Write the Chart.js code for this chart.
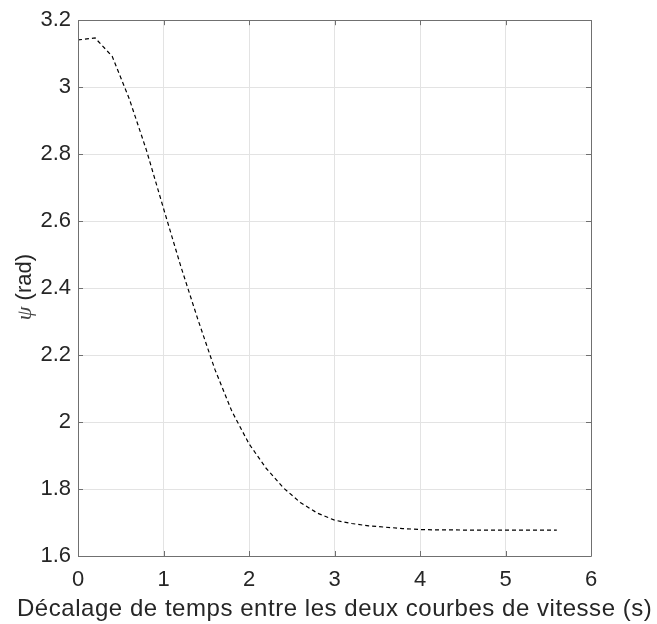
<!DOCTYPE html>
<html>
<head>
<meta charset="utf-8">
<script src="https://cdn.jsdelivr.net/npm/chart.js@4.4.0/dist/chart.umd.min.js"></script>
<style>
  html, body { margin: 0; padding: 0; background: #ffffff; }
  #wrap { width: 657px; height: 624px; }
</style>
</head>
<body>
<div id="wrap"><canvas id="c" width="657" height="624"></canvas></div>
<script>
// Data
const timeShift = [0, 0.2, 0.4, 0.6, 0.8, 1.0, 1.2, 1.4, 1.6, 1.8, 2.0, 2.2, 2.4, 2.6, 2.8, 3.0,
                   3.2, 3.4, 3.6, 3.8, 4.0, 4.2, 4.4, 4.6, 4.8, 5.0, 5.2, 5.4, 5.6];
const psiValues = [3.141, 3.147, 3.092, 2.965, 2.812, 2.638, 2.467, 2.308, 2.158, 2.032, 1.935,
                   1.862, 1.804, 1.760, 1.728, 1.707, 1.697, 1.690, 1.686, 1.682, 1.679,
                   1.678, 1.678, 1.677, 1.677, 1.677, 1.677, 1.677, 1.677];
const xTicks = [0, 1, 2, 3, 4, 5, 6];
const yTicks = [1.6, 1.8, 2.0, 2.2, 2.4, 2.6, 2.8, 3.0, 3.2];
const xTitle = 'Décalage de temps entre les deux courbes de vitesse (s)';
const ySymbol = 'ψ';
const yUnit = ' (rad)';

const FONT = '"Liberation Sans", Arial, Helvetica, sans-serif';
const TEXT = '#262626';

const boxPlugin = {
  id: 'boxPlugin',
  afterDraw(chart) {
    const ctx = chart.ctx;
    const a = chart.chartArea;
    const xs = chart.scales.x, ys = chart.scales.y;
    ctx.save();
    ctx.strokeStyle = '#707070';
    ctx.lineWidth = 1;
    ctx.beginPath();
    ctx.rect(Math.round(a.left) + 0.5, Math.round(a.top) + 0.5,
             Math.round(a.right - a.left), Math.round(a.bottom - a.top));
    ctx.stroke();
    const L = 5;
    ctx.beginPath();
    xTicks.forEach(v => {
      const px = Math.round(xs.getPixelForValue(v)) + 0.5;
      ctx.moveTo(px, a.bottom); ctx.lineTo(px, a.bottom - L);
      ctx.moveTo(px, a.top); ctx.lineTo(px, a.top + L);
    });
    yTicks.forEach(v => {
      const py = Math.round(ys.getPixelForValue(v)) + 0.5;
      ctx.moveTo(a.left, py); ctx.lineTo(a.left + L, py);
      ctx.moveTo(a.right, py); ctx.lineTo(a.right - L, py);
    });
    ctx.stroke();

    // x axis title: spread to the reference width (about 17 -> 652 px)
    ctx.fillStyle = TEXT;
    ctx.font = '24px ' + FONT;
    ctx.textAlign = 'left';
    ctx.textBaseline = 'alphabetic';
    const hasLS = ('letterSpacing' in ctx);
    if (hasLS) ctx.letterSpacing = '0px';
    const target = 635;
    const w0 = ctx.measureText(xTitle).width;
    let startX = (a.left + a.right) / 2 - w0 / 2;
    if (hasLS) {
      const sp = Math.max(0, (target - w0) / (xTitle.length - 1));
      ctx.letterSpacing = sp.toFixed(2) + 'px';
      startX = (a.left + a.right) / 2 - target / 2;
    }
    ctx.fillText(xTitle, startX, 616);
    if (hasLS) ctx.letterSpacing = '0px';

    // y axis title (italic psi + unit)
    ctx.save();
    ctx.translate(31, (a.top + a.bottom) / 2 - 1);
    ctx.rotate(-Math.PI / 2);
    ctx.textAlign = 'left';
    ctx.textBaseline = 'alphabetic';
    const symFont = 'italic 22px "Liberation Serif", "DejaVu Serif", serif';
    const unitFont = '22px ' + FONT;
    ctx.font = symFont;
    const w1 = ctx.measureText(ySymbol).width;
    ctx.font = unitFont;
    const w2 = ctx.measureText(yUnit).width;
    const start = -(w1 + w2) / 2;
    ctx.font = symFont;
    ctx.fillStyle = '#444444';
    ctx.fillText(ySymbol, start, 0);
    ctx.font = unitFont;
    ctx.fillStyle = TEXT;
    ctx.fillText(yUnit, start + w1, 0);
    ctx.restore();
    ctx.restore();
  }
};

new Chart(document.getElementById('c'), {
  type: 'scatter',
  data: {
    datasets: [{
      data: timeShift.map((t, i) => ({ x: t, y: psiValues[i] })),
      showLine: true,
      borderColor: '#000000',
      borderWidth: 1.2,
      borderDash: [4, 3],
      pointRadius: 0,
      fill: false,
      tension: 0
    }]
  },
  options: {
    responsive: false,
    animation: false,
    devicePixelRatio: 1,
    layout: { padding: { top: 16, right: 66, left: 0, bottom: 0 } },
    plugins: { legend: { display: false }, tooltip: { enabled: false } },
    scales: {
      x: {
        type: 'linear', min: 0, max: 6,
        afterFit(s) { s.height = 68; },
        afterBuildTicks(s) { s.ticks = xTicks.map(v => ({ value: v })); },
        ticks: { color: TEXT, font: { family: FONT, size: 22 }, padding: 11,
                 callback: v => String(v), maxRotation: 0 },
        grid: { color: '#e3e3e3', drawTicks: false, tickLength: 0 },
        border: { display: false },
        title: { display: false, text: xTitle }
      },
      y: {
        type: 'linear', min: 1.6, max: 3.2,
        afterFit(s) { s.width = 78; },
        afterBuildTicks(s) { s.ticks = yTicks.map(v => ({ value: v })); },
        ticks: { color: TEXT, font: { family: FONT, size: 22 }, padding: 7,
                 callback: v => String(+v.toFixed(1)) },
        grid: { color: '#e3e3e3', drawTicks: false, tickLength: 0 },
        border: { display: false },
        title: { display: false, text: ySymbol + yUnit }
      }
    }
  },
  plugins: [boxPlugin]
});
</script>
</body>
</html>
